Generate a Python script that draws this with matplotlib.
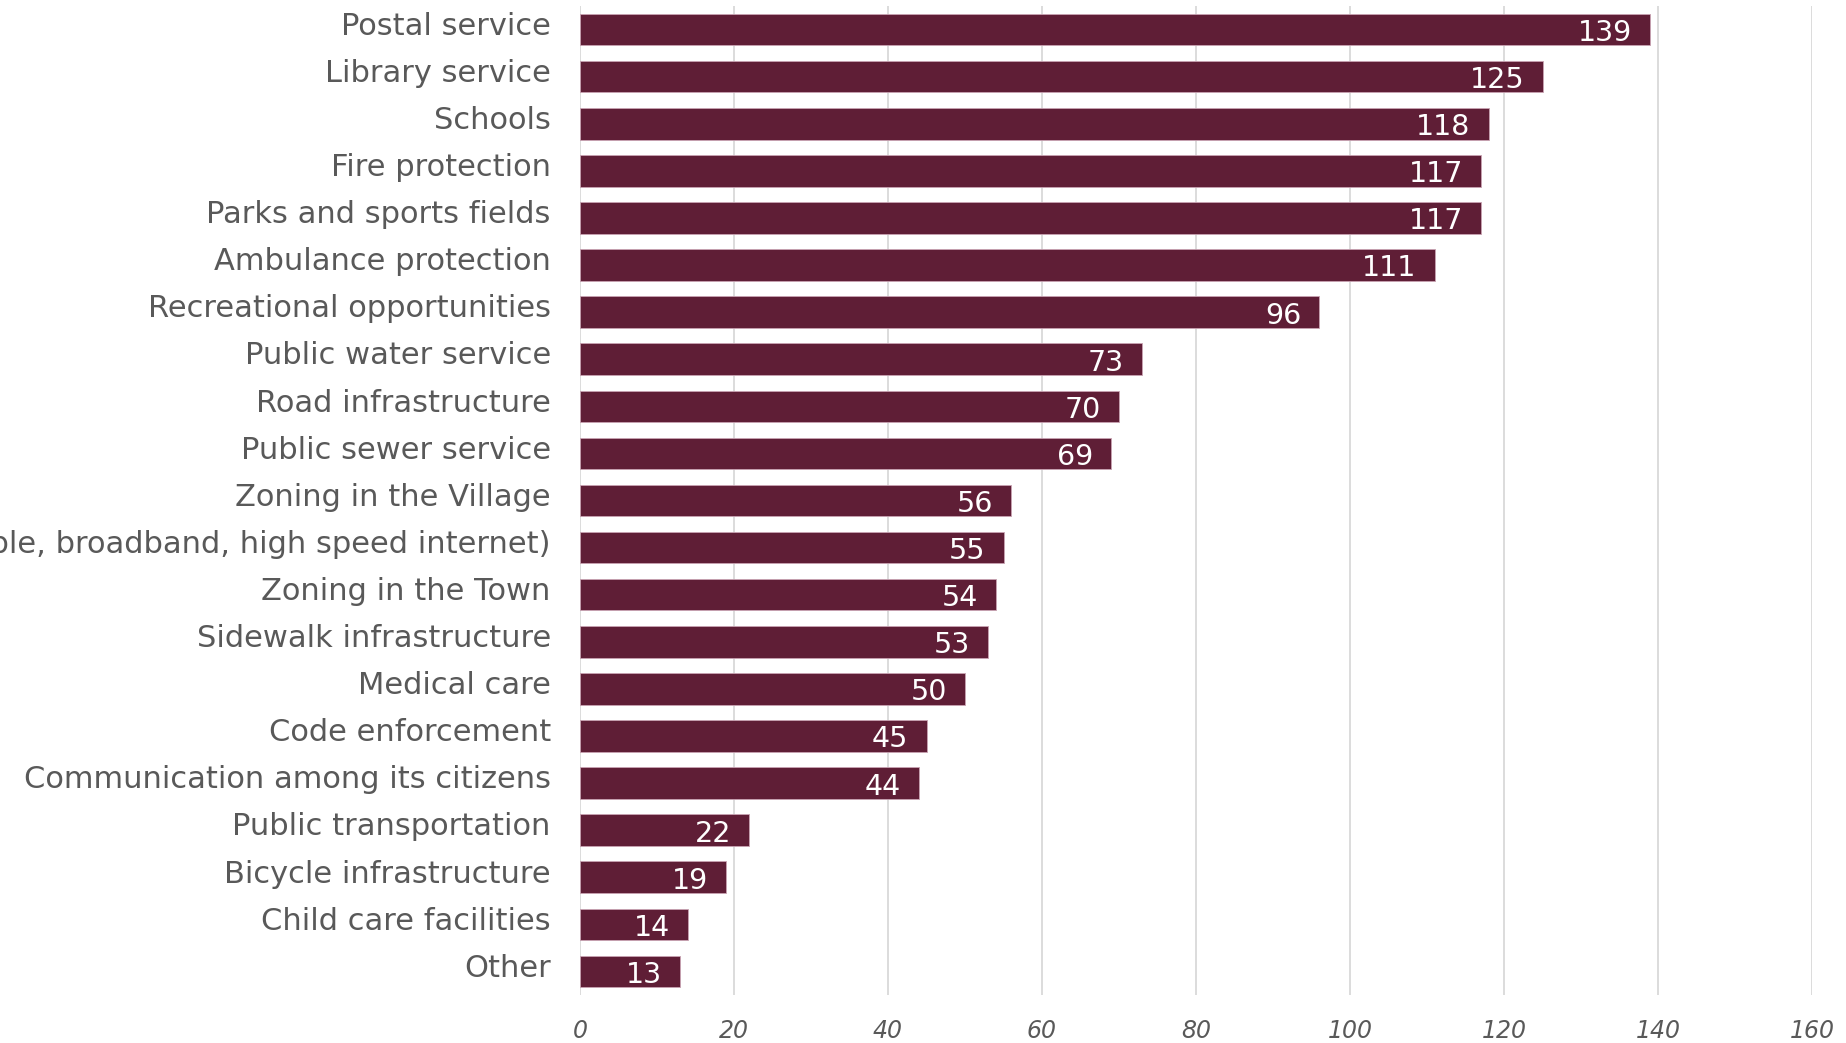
import matplotlib
matplotlib.use("Agg")
import matplotlib.pyplot as plt
from matplotlib.transforms import ScaledTranslation

# Services ranked by number of responses
categories = [
    "Postal service",
    "Library service",
    "Schools",
    "Fire protection",
    "Parks and sports fields",
    "Ambulance protection",
    "Recreational opportunities",
    "Public water service",
    "Road infrastructure",
    "Public sewer service",
    "Zoning in the Village",
    "Internet service (cable, broadband, high speed internet)",
    "Zoning in the Town",
    "Sidewalk infrastructure",
    "Medical care",
    "Code enforcement",
    "Communication among its citizens",
    "Public transportation",
    "Bicycle infrastructure",
    "Child care facilities",
    "Other",
]
counts = [139, 125, 118, 117, 117, 111, 96, 73, 70, 69, 56, 55, 54, 53, 50,
          45, 44, 22, 19, 14, 13]
x_ticks = [0, 20, 40, 60, 80, 100, 120, 140, 160]

BAR = "#5f1e36"
TEXT = "#595959"
GRID = "#d9d9d9"

plt.rcParams["font.family"] = ["DejaVu Sans"]

fig = plt.figure(figsize=(18.46, 10.43), dpi=100)
ax = fig.add_axes([580 / 1846, 1 - 995 / 1043, (1812 - 580) / 1846, (995 - 6) / 1043])

ypos = list(range(len(categories)))
bars = ax.barh(ypos, counts, height=0.67, color=BAR, edgecolor="#c9a3b2",
               linewidth=0.6, zorder=3)

for bar, v in zip(bars, counts):
    ax.annotate(str(v), xy=(bar.get_width(), bar.get_y() + bar.get_height() / 2),
                xytext=(-13, -2.5), textcoords="offset points",
                ha="right", va="center", color="white", fontsize=20.5,
                zorder=4)

ax.set_xlim(0, 160)
ax.set_ylim(len(categories) - 0.5, -0.5)
ax.set_xticks(x_ticks)
ax.set_xticklabels([str(t) for t in x_ticks], fontsize=17, style="italic", color=TEXT)
ax.set_yticks(ypos)
ax.set_yticklabels(categories, fontsize=22, color=TEXT)
ax.tick_params(axis="y", length=0, pad=21)
ax.tick_params(axis="x", length=0, pad=17)

# lift the category labels slightly above the bar centres
lift = ScaledTranslation(0, 4.5 / 72, fig.dpi_scale_trans)
for lbl in ax.get_yticklabels():
    lbl.set_transform(lbl.get_transform() + lift)

ax.xaxis.grid(True, color=GRID, linewidth=1.3, zorder=0)
ax.set_axisbelow(True)
for s in ax.spines.values():
    s.set_visible(False)

fig.savefig("out.png", dpi=100)
